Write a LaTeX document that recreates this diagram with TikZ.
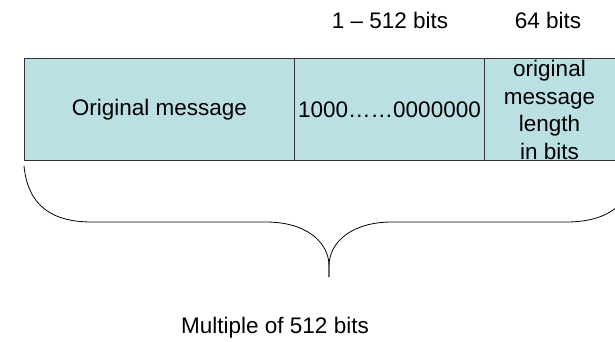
\documentclass[tikz,border=0pt]{standalone}
\usepackage{fontspec}
\setmainfont{Liberation Sans}
\usepackage{tikz}
\definecolor{cellblue}{RGB}{187,224,227}
\tikzset{
	cell/.style = {draw=black!80, line width=1pt, fill=cellblue, inner sep=0pt,
		minimum height=102pt, anchor=north west},
	txt/.style = {font=\fontsize{22.5}{27.5}\selectfont, inner sep=0pt, align=center}
}

\begin{document}
\begin{tikzpicture}[x=1pt,y=-1pt]
	\useasboundingbox (0,0) rectangle (615,342);
	\clip (0,0) rectangle (615,342);
	% the three parts of the padded message
	\node [cell, minimum width=270pt] (msg) at (24,58) {};
	\node [cell, minimum width=190pt] (pad) at (294,58) {};
	\node [cell, minimum width=132pt] (len) at (484,58) {};
	\node [txt] (msgText) at (msg.center) {Original message};
	\node [txt] (padText) at (pad.center) {1000……0000000};
	\node [txt] (lenText) at (549.5,110) {original\\message\\length\\in bits};
	% sizes above the blocks
	\node [txt] (padSize) at (390,20) {1 – 512 bits};
	\node [txt] (lenSize) at (548,20) {64 bits};
	% brace under the whole block
	\coordinate (L) at (24,166);
	\coordinate (tip) at (329,277);
	\coordinate (R) at (636,166);
	\draw [line width=0.8pt] (L) .. controls (28,206) and (52,222) .. (92,222)
		-- (266,222) .. controls (306,222) and (329,242) .. (329,266) -- (tip);
	\draw [line width=0.8pt] (tip) -- (329,266) .. controls (329,242) and (352,222) .. (392,222)
		-- (566,222) .. controls (606,222) and (632,206) .. (R);
	\node [txt] (total) at (275,328) {Multiple of 512 bits};
\end{tikzpicture}
\end{document}
